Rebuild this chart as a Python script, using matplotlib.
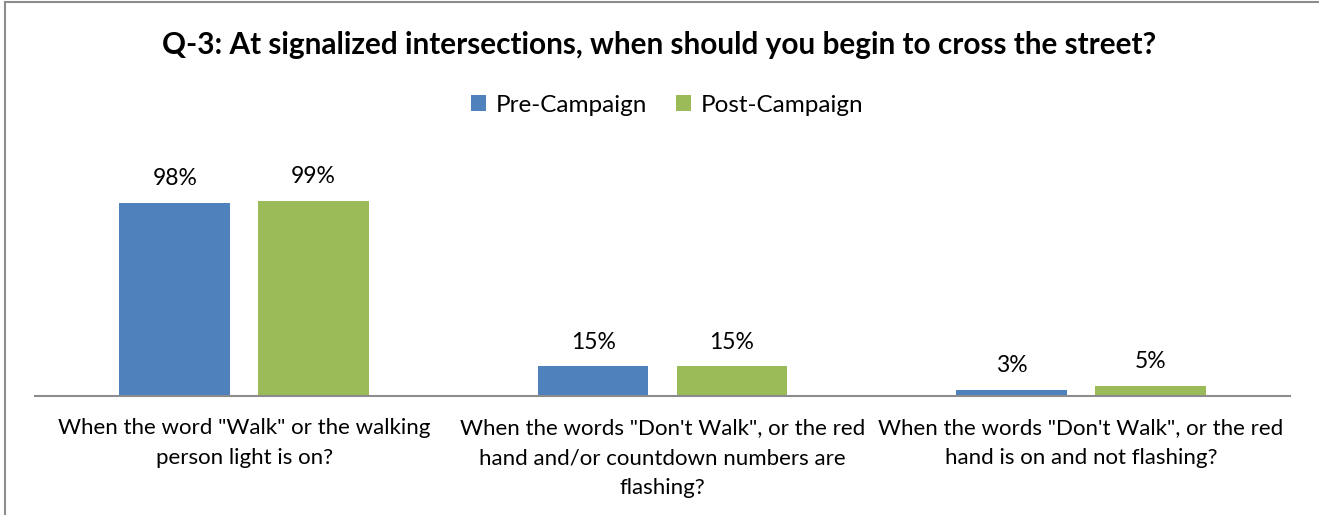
import numpy as np
import matplotlib.pyplot as plt

plt.rcParams['font.family'] = ['Lato', 'DejaVu Sans']

# data
categories = [
    'When the word "Walk" or the walking\nperson light is on?',
    'When the words "Don\'t Walk", or the red\nhand and/or countdown numbers are\nflashing?',
    'When the words "Don\'t Walk", or the red\nhand is on and not flashing?',
]
series_names = ['Pre-Campaign', 'Post-Campaign']
pre_values = [98, 15, 3]
post_values = [99, 15, 5]
colors = ['#4F81BD', '#9BBB59']

W, H = 1319, 515
fig = plt.figure(figsize=(W / 100, H / 100), dpi=100)

# axes placed in pixel coords: left 35, right 1290, baseline y=396
ax_left, ax_right = 35, 1290
ax_bottom, ax_top = 396, 150
ax = fig.add_axes([ax_left / W, 1 - ax_bottom / H,
                   (ax_right - ax_left) / W, (ax_bottom - ax_top) / H])

px_per_pct = 197 / 100.0
ax.set_ylim(0, (ax_bottom - ax_top) / px_per_pct)
ax.set_xlim(-0.5, len(categories) - 0.5)

x = np.arange(len(categories))
bw = 0.265
gap = 0.067
offs = (bw + gap) / 2

for vals, off, col, name in [(pre_values, -offs, colors[0], series_names[0]),
                             (post_values, offs, colors[1], series_names[1])]:
    bars = ax.bar(x + off, vals, width=bw, color=col, label=name, zorder=2)
    for b, v in zip(bars, vals):
        ax.annotate(f'{v}%', (b.get_x() + b.get_width() / 2, v),
                    xytext=(0, 10), textcoords='offset points',
                    ha='center', va='bottom', fontsize=16.5, color='#000000')

for s in ['top', 'right', 'left']:
    ax.spines[s].set_visible(False)
ax.spines['bottom'].set_color('#8C8C8C')
ax.spines['bottom'].set_linewidth(1.5)
ax.set_yticks([])
ax.set_xticks(x)
ax.set_xticklabels(categories, fontsize=16, linespacing=1.62)
ax.tick_params(axis='x', length=0, pad=16)

fig.text(0.5, 1 - 45 / H, 'Q-3: At signalized intersections, when should you begin to cross the street?',
         ha='center', va='center', fontsize=21.4, fontweight='bold')

fig.legend(loc='center', bbox_to_anchor=(667 / W, 1 - 105 / H), ncol=2, frameon=False,
           fontsize=17.5, handlelength=0.6, handleheight=0.6, columnspacing=1.2,
           handletextpad=0.4)

# chart border (left and top visible)
fig.add_artist(plt.Line2D([5 / W, 5 / W], [0, 1 - 2 / H], color='#8C8C8C', lw=1.5,
                          transform=fig.transFigure))
fig.add_artist(plt.Line2D([5 / W, 1], [1 - 2 / H, 1 - 2 / H], color='#8C8C8C', lw=1.5,
                          transform=fig.transFigure))

fig.savefig('out.png', dpi=100)
